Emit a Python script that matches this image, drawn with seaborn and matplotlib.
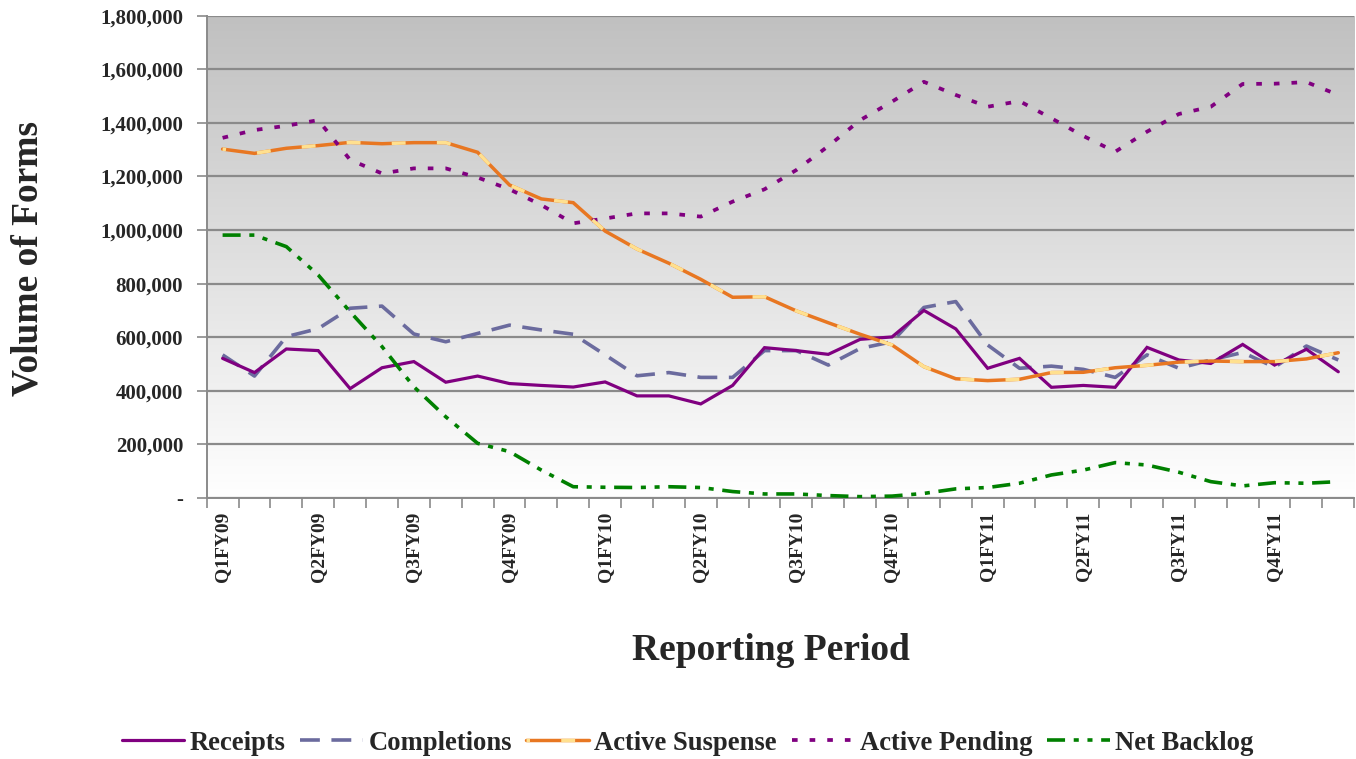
import matplotlib
matplotlib.use("Agg")
import matplotlib.pyplot as plt
import seaborn as sns
import numpy as np
import pandas as pd
from matplotlib.colors import LinearSegmentedColormap
from matplotlib.legend_handler import HandlerTuple

# ---------------- data ----------------
quarters = ["Q1FY09", "Q2FY09", "Q3FY09", "Q4FY09",
            "Q1FY10", "Q2FY10", "Q3FY10", "Q4FY10",
            "Q1FY11", "Q2FY11", "Q3FY11", "Q4FY11"]
periods = [f"{q}-M{m}" for q in quarters for m in (1, 2, 3)]

receipts = [521000, 468000, 556000, 550000, 408000, 486000, 509000, 432000, 455000, 427000,
            420000, 414000, 433000, 381000, 381000, 351000, 420000, 561000, 550000, 536000,
            592000, 601000, 700000, 631000, 484000, 521000, 413000, 420000, 413000, 562000,
            515000, 502000, 573000, 496000, 555000, 471000]
completions = [534000, 455000, 602000, 632000, 708000, 716000, 612000, 583000, 614000, 645000,
               627000, 611000, 534000, 456000, 468000, 450000, 450000, 550000, 550000, 496000,
               558000, 583000, 711000, 733000, 571000, 484000, 492000, 480000, 450000, 534000,
               484000, 515000, 543000, 488000, 567000, 515000]
active_suspense = [1302000, 1286000, 1305000, 1315000, 1327000, 1322000, 1326000, 1326000,
                   1290000, 1168000, 1116000, 1102000, 996000, 929000, 876000, 816000, 749000,
                   751000, 698000, 654000, 611000, 571000, 490000, 445000, 438000, 443000,
                   468000, 469000, 486000, 495000, 507000, 511000, 509000, 509000, 519000, 542000]
active_pending = [1344000, 1373000, 1389000, 1410000, 1262000, 1211000, 1230000, 1230000,
                  1196000, 1152000, 1093000, 1025000, 1043000, 1062000, 1062000, 1050000,
                  1106000, 1152000, 1224000, 1313000, 1410000, 1479000, 1553000, 1504000,
                  1460000, 1481000, 1417000, 1351000, 1292000, 1367000, 1433000, 1460000,
                  1545000, 1546000, 1552000, 1504000]
net_backlog = [981000, 981000, 938000, 832000, 695000, 565000, 415000, 303000, 204000, 173000,
               104000, 42000, 40000, 39000, 42000, 39000, 24000, 15000, 15000, 9000, 5000, 7000,
               17000, 34000, 39000, 55000, 86000, 104000, 132000, 123000, 96000, 61000, 45000,
               57000, 55000, 61000]

y_ticks = [0, 200000, 400000, 600000, 800000, 1000000, 1200000, 1400000, 1600000, 1800000]

df = pd.DataFrame({
    "pos": np.arange(len(periods)),
    "period": periods,
    "Receipts": receipts,
    "Completions": completions,
    "Active Suspense": active_suspense,
    "Active Pending": active_pending,
    "Net Backlog": net_backlog,
})

# ---------------- figure ----------------
sns.set_theme(style="white")
plt.rcParams["font.family"] = ["Liberation Serif", "DejaVu Serif"]
plt.rcParams["font.weight"] = "bold"

fig = plt.figure(figsize=(13.56, 7.59), dpi=100)
ax = fig.add_axes([0.1524, 0.3439, 0.8463, 0.6355])

n = len(periods)
ymax = y_ticks[-1]

# gradient background (gray top -> white bottom)
cmap = LinearSegmentedColormap.from_list("bg", ["#FFFFFF", "#C0C0C0"])
grad = np.linspace(0, 1, 256).reshape(-1, 1)
ax.imshow(grad, cmap=cmap, aspect="auto", origin="lower",
          extent=[-0.5, n - 0.5, 0, ymax], zorder=-1)

purple = "#800080"
slate = "#6B6B9E"
orange = "#E87722"
yellow = "#FFE08F"
green = "#008000"

sns.lineplot(data=df, x="pos", y="Receipts", ax=ax, color=purple, linewidth=2.3,
             label="Receipts", zorder=3)
sns.lineplot(data=df, x="pos", y="Completions", ax=ax, color=slate, linewidth=2.6,
             linestyle=(0, (5.5, 3.2)), label="Completions", zorder=2)
sns.lineplot(data=df, x="pos", y="Active Suspense", ax=ax, color=orange, linewidth=2.5,
             label="Active Suspense", zorder=3)
h_orange = ax.lines[-1]
sns.lineplot(data=df, x="pos", y="Active Suspense", ax=ax, color=yellow, linewidth=2.5,
             linestyle=(3, (4, 9)), label="_nolegend_", zorder=4)
h_yellow = ax.lines[-1]
sns.lineplot(data=df, x="pos", y="Active Pending", ax=ax, color=purple, linewidth=2.7,
             linestyle=(0, (1.5, 3.2)), label="Active Pending", zorder=3)
sns.lineplot(data=df, x="pos", y="Net Backlog", ax=ax, color=green, linewidth=2.6,
             linestyle=(0, (5, 2.4, 1.4, 2.4, 1.4, 2.4)), label="Net Backlog", zorder=3)
for ln in ax.lines:
    ln.set_dash_capstyle("butt")
    ln.set_solid_joinstyle("miter")

ax.set_xlim(-0.5, n - 0.5)
ax.set_ylim(0, ymax)

# y axis
ax.set_yticks(y_ticks)
ax.set_yticklabels(["-" if v == 0 else f"{v:,}" for v in y_ticks],
                   fontsize=15, fontweight="bold")
ax.yaxis.grid(True, color="#8A8A8A", linewidth=1.6)
ax.set_axisbelow(True)

# x axis: labels every quarter, tick marks between every category
ax.set_xticks(np.arange(0, n, 3))
ax.set_xticklabels(quarters, rotation=90, fontsize=14, fontweight="bold")
ax.set_xticks(np.arange(-0.5, n, 1), minor=True)
ax.tick_params(axis="x", which="major", length=0, pad=10)
ax.tick_params(axis="x", which="minor", length=7, width=1.2, color="#8A8A8A", direction="out")
ax.tick_params(axis="y", which="major", length=7, width=1.2, color="#8A8A8A",
               direction="out", pad=10)
ax.xaxis.set_ticks_position("bottom")
ax.yaxis.set_ticks_position("left")

for s in ["top", "right"]:
    ax.spines[s].set_visible(False)
for s in ["left", "bottom"]:
    ax.spines[s].set_color("#8A8A8A")
    ax.spines[s].set_linewidth(1.4)

ax.set_xlabel("")
ax.set_ylabel("")

fig.text(28 / 1356, 1 - 258 / 759, "Volume of Forms", rotation=90, ha="center", va="center",
         fontsize=27, fontweight="bold")
fig.text(771 / 1356, 1 - 650 / 759, "Reporting Period", ha="center", va="center",
         fontsize=27, fontweight="bold")

handles, labels = ax.get_legend_handles_labels()
if ax.get_legend() is not None:
    ax.get_legend().remove()
hmap = dict(zip(labels, handles))
order = ["Receipts", "Completions", "Active Suspense", "Active Pending", "Net Backlog"]
leg_handles = []
for lab in order:
    if lab == "Active Suspense":
        leg_handles.append((h_orange, h_yellow))
    else:
        leg_handles.append(hmap[lab])

fig.legend(leg_handles, order, loc="center", bbox_to_anchor=(0.507, 0.021), ncol=5,
           frameon=False, prop={"family": "Liberation Serif", "weight": "bold", "size": 19.2},
           handlelength=2.35, handletextpad=0.2, columnspacing=0.55, borderaxespad=0,
           handler_map={tuple: HandlerTuple(ndivide=1)})

fig.savefig("out.png", dpi=100)
